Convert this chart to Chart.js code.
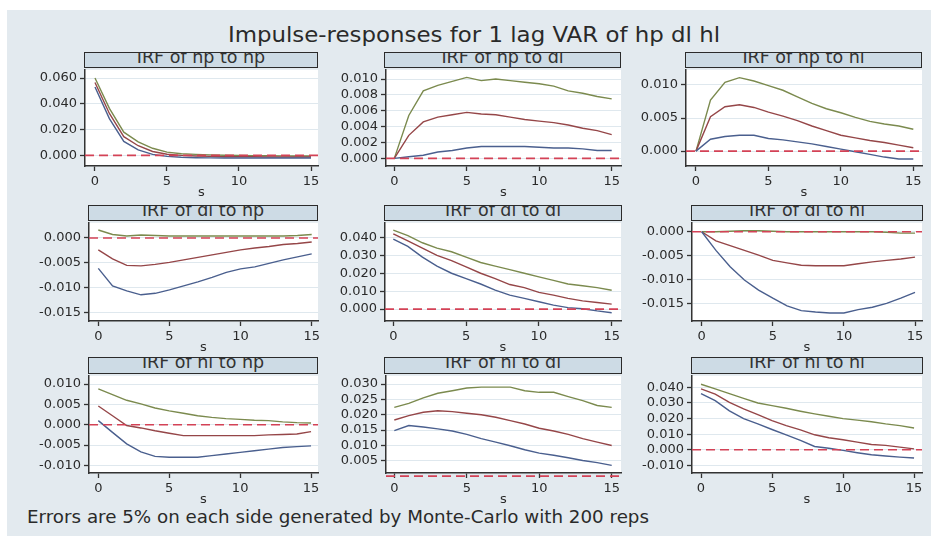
<!DOCTYPE html>
<html>
<head>
<meta charset="utf-8">
<script src="https://cdn.jsdelivr.net/npm/chart.js"></script>
<style>
  html, body { margin: 0; padding: 0; background: #fff; }
  body { width: 931px; height: 536px; position: relative; overflow: hidden; font-family: "DejaVu Sans", sans-serif; color: #2a2a2a; }
  #bg { position: absolute; left: 7px; top: 10px; right: 0; bottom: 0; background: #e3eaef; }
  #title { position: absolute; left: 0; width: 948px; top: 22px; text-align: center; font-size: 22px; line-height: 26px; white-space: nowrap; transform: scaleX(1.04); transform-origin: 474px 0; }
  #note { position: absolute; left: 27px; top: 507px; font-size: 17px; line-height: 20px; white-space: nowrap; transform: scaleX(1.075); transform-origin: 0 0; }
  .strip { position: absolute; box-sizing: border-box; border: 1.5px solid #2b2b2b; background: #cddbe5; overflow: hidden; }
  .strip span { position: absolute; left: 0; right: 0; top: -6px; text-align: center; font-size: 17.5px; line-height: 20px; white-space: nowrap; color: #333; }
  canvas { position: absolute; }
</style>
</head>
<body>
<div id="bg"></div>
<div id="title">Impulse-responses for 1 lag VAR of hp dl hl</div>
<div id="note">Errors are 5% on each side generated by Monte-Carlo with 200 reps</div>
<script>
// horizon
const steps = [0, 1, 2, 3, 4, 5, 6, 7, 8, 9, 10, 11, 12, 13, 14, 15];
const xTicks = [0, 5, 10, 15];

// lower bound / irf / upper bound
const hp_hp_lo  = [0.0530, 0.0285, 0.0108, 0.0042, 0.0008, -0.0008, -0.0015, -0.0018, -0.0019, -0.0020, -0.0020, -0.0020, -0.0020, -0.0020, -0.0020, -0.0020];
const hp_hp_irf = [0.0565, 0.0325, 0.0145, 0.0075, 0.0030, 0.0009, 0.0000, -0.0005, -0.0008, -0.0010, -0.0011, -0.0011, -0.0012, -0.0012, -0.0012, -0.0012];
const hp_hp_hi  = [0.0600, 0.0365, 0.0180, 0.0105, 0.0055, 0.0025, 0.0013, 0.0008, 0.0004, 0.0001, -0.0001, -0.0002, -0.0003, -0.0004, -0.0005, -0.0005];

const hp_dl_lo  = [0, 0.0002, 0.0004, 0.0008, 0.0010, 0.0013, 0.0015, 0.0015, 0.0015, 0.0015, 0.0014, 0.0013, 0.0013, 0.0012, 0.0010, 0.0010];
const hp_dl_irf = [0, 0.0029, 0.0046, 0.0052, 0.0055, 0.0058, 0.0056, 0.0055, 0.0052, 0.0049, 0.0047, 0.0045, 0.0042, 0.0038, 0.0035, 0.0030];
const hp_dl_hi  = [0, 0.0054, 0.0085, 0.0092, 0.0097, 0.0102, 0.0098, 0.0100, 0.0098, 0.0096, 0.0094, 0.0091, 0.0085, 0.0082, 0.0078, 0.0075];

const hp_hl_lo  = [0, 0.0018, 0.0022, 0.0024, 0.0024, 0.0019, 0.0017, 0.0014, 0.0011, 0.0007, 0.0003, -0.0001, -0.0005, -0.0009, -0.0012, -0.0012];
const hp_hl_irf = [0, 0.0052, 0.0067, 0.0070, 0.0066, 0.0059, 0.0053, 0.0046, 0.0038, 0.0031, 0.0024, 0.0020, 0.0016, 0.0013, 0.0009, 0.0005];
const hp_hl_hi  = [0, 0.0077, 0.0104, 0.0111, 0.0106, 0.0099, 0.0092, 0.0082, 0.0072, 0.0064, 0.0058, 0.0051, 0.0045, 0.0041, 0.0038, 0.0033];

const dl_hp_lo  = [-0.0061, -0.0096, -0.0106, -0.0114, -0.0111, -0.0104, -0.0096, -0.0088, -0.0079, -0.0069, -0.0062, -0.0058, -0.0051, -0.0044, -0.0038, -0.0032];
const dl_hp_irf = [-0.0024, -0.0042, -0.0055, -0.0056, -0.0053, -0.0049, -0.0044, -0.0039, -0.0034, -0.0029, -0.0024, -0.0020, -0.0017, -0.0013, -0.0011, -0.0008];
const dl_hp_hi  = [0.0016, 0.0007, 0.0004, 0.0006, 0.0005, 0.0004, 0.0004, 0.0004, 0.0004, 0.0004, 0.0004, 0.0004, 0.0004, 0.0004, 0.0005, 0.0007];

const dl_dl_lo  = [0.039, 0.035, 0.029, 0.024, 0.020, 0.017, 0.014, 0.0106, 0.0078, 0.006, 0.0041, 0.0022, 0.0008, 0.0002, -0.001, -0.002];
const dl_dl_irf = [0.042, 0.038, 0.034, 0.030, 0.027, 0.0235, 0.020, 0.017, 0.0137, 0.012, 0.0093, 0.0078, 0.006, 0.0046, 0.0037, 0.0028];
const dl_dl_hi  = [0.044, 0.041, 0.037, 0.034, 0.032, 0.029, 0.026, 0.024, 0.022, 0.020, 0.018, 0.016, 0.014, 0.013, 0.012, 0.0105];

const dl_hl_lo  = [0, -0.0039, -0.0073, -0.0101, -0.0122, -0.0139, -0.0155, -0.0165, -0.0168, -0.0170, -0.0170, -0.0163, -0.0158, -0.0150, -0.0139, -0.0127];
const dl_hl_irf = [0, -0.0019, -0.0029, -0.0039, -0.0049, -0.0060, -0.0065, -0.0070, -0.0071, -0.0071, -0.0071, -0.0067, -0.0063, -0.0060, -0.0057, -0.0053];
const dl_hl_hi  = [0, 0, 0.0001, 0.0002, 0.0002, 0.0001, 0, 0, 0, 0, 0, 0, 0, -0.0001, -0.0003, -0.0003];

const hl_hp_lo  = [0.0010, -0.0019, -0.0047, -0.0067, -0.0078, -0.0080, -0.0080, -0.0080, -0.0076, -0.0072, -0.0068, -0.0064, -0.0060, -0.0056, -0.0054, -0.0052];
const hl_hp_irf = [0.0046, 0.0022, -0.0002, -0.0008, -0.0015, -0.0021, -0.0027, -0.0027, -0.0027, -0.0027, -0.0027, -0.0027, -0.0025, -0.0024, -0.0023, -0.0017];
const hl_hp_hi  = [0.0088, 0.0074, 0.0060, 0.0051, 0.0041, 0.0034, 0.0028, 0.0022, 0.0018, 0.0015, 0.0013, 0.0011, 0.0010, 0.0007, 0.0005, 0.0004];

const hl_dl_lo  = [0.0148, 0.0165, 0.0160, 0.0154, 0.0147, 0.0136, 0.0122, 0.0111, 0.0099, 0.0086, 0.0075, 0.0068, 0.0060, 0.0051, 0.0044, 0.0035];
const hl_dl_irf = [0.0183, 0.0197, 0.0208, 0.0213, 0.0210, 0.0205, 0.0200, 0.0192, 0.0181, 0.0170, 0.0156, 0.0147, 0.0136, 0.0122, 0.0111, 0.0100];
const hl_dl_hi  = [0.0224, 0.0237, 0.0255, 0.0270, 0.0278, 0.0287, 0.0290, 0.0290, 0.0290, 0.0278, 0.0273, 0.0273, 0.0259, 0.0246, 0.0230, 0.0224];

const hl_hl_lo  = [0.036, 0.0315, 0.025, 0.020, 0.0166, 0.013, 0.0096, 0.006, 0.0021, 0.001, -0.0004, -0.0019, -0.0032, -0.004, -0.0047, -0.0053];
const hl_hl_irf = [0.039, 0.0357, 0.0304, 0.0262, 0.0225, 0.0187, 0.0155, 0.0128, 0.0096, 0.0077, 0.0064, 0.0049, 0.0034, 0.0028, 0.0017, 0.0006];
const hl_hl_hi  = [0.042, 0.039, 0.036, 0.033, 0.030, 0.0283, 0.0266, 0.0247, 0.023, 0.0215, 0.020, 0.019, 0.018, 0.0166, 0.0155, 0.014];

// y tick labels per panel
const ticks_hp_hp = [0, 0.02, 0.04, 0.06];
const ticks_hp_dl = [0, 0.002, 0.004, 0.006, 0.008, 0.010];
const ticks_hp_hl = [0, 0.005, 0.010];
const ticks_dl_hp = [-0.015, -0.010, -0.005, 0];
const ticks_dl_dl = [0, 0.01, 0.02, 0.03, 0.04];
const ticks_dl_hl = [-0.015, -0.010, -0.005, 0];
const ticks_hl_hp = [-0.010, -0.005, 0, 0.005, 0.010];
const ticks_hl_dl = [0.005, 0.010, 0.015, 0.020, 0.025, 0.030];
const ticks_hl_hl = [-0.01, 0, 0.01, 0.02, 0.03, 0.04];

// panel layout: plot box [left, top, right, bottom] in page px, strip box, axis ranges
const panels = [
  { title: 'IRF of hp to hp', lo: hp_hp_lo, irf: hp_hp_irf, hi: hp_hp_hi, yt: ticks_hp_hp, y: [-0.00823, 0.06638], x: [-0.694, 15.486], box: [85, 69, 318, 166], strip: [84, 52, 318, 68] },
  { title: 'IRF of hp to dl', lo: hp_dl_lo, irf: hp_dl_irf, hi: hp_dl_hi, yt: ticks_hp_dl, y: [-0.00096, 0.01116], x: [-0.573, 15.642], box: [386, 69, 621, 166], strip: [384, 52, 621, 68] },
  { title: 'IRF of hp to hl', lo: hp_hl_lo, irf: hp_hl_irf, hi: hp_hl_hi, yt: ticks_hp_hl, y: [-0.00225, 0.01229], x: [-0.690, 15.600], box: [686, 69, 922, 166], strip: [685, 52, 922, 68] },
  { title: 'IRF of dl to hp', lo: dl_hp_lo, irf: dl_hp_irf, hi: dl_hp_hi, yt: ticks_dl_hp, y: [-0.01665, 0.00304], x: [-0.654, 15.443], box: [89, 222, 318, 321], strip: [88, 205, 318, 221] },
  { title: 'IRF of dl to dl', lo: dl_dl_lo, irf: dl_dl_irf, hi: dl_dl_hi, yt: ticks_dl_dl, y: [-0.00664, 0.04813], x: [-0.570, 15.640], box: [385, 222, 621, 321], strip: [384, 205, 622, 221] },
  { title: 'IRF of dl to hl', lo: dl_hl_lo, irf: dl_hl_irf, hi: dl_hl_hi, yt: ticks_dl_hl, y: [-0.01867, 0.00187], x: [-0.682, 15.490], box: [692, 222, 922, 321], strip: [691, 205, 923, 221] },
  { title: 'IRF of hl to hp', lo: hl_hp_lo, irf: hl_hp_irf, hi: hl_hp_hi, yt: ticks_hl_hp, y: [-0.01188, 0.01202], x: [-0.656, 15.490], box: [89, 375, 318, 473], strip: [88, 357, 318, 374] },
  { title: 'IRF of hl to dl', lo: hl_dl_lo, irf: hl_dl_irf, hi: hl_dl_hi, yt: ticks_hl_dl, y: [0.00103, 0.03268], x: [-0.573, 15.642], box: [386, 375, 621, 473], strip: [384, 357, 622, 374] },
  { title: 'IRF of hl to hl', lo: hl_hl_lo, irf: hl_hl_irf, hi: hl_hl_hi, yt: ticks_hl_hl, y: [-0.01490, 0.04744], x: [-0.634, 15.560], box: [692, 375, 922, 473], strip: [691, 357, 923, 374] }
];

const FONT = 'DejaVu Sans';
const INK = '#2a2a2a';
const Y_W = 62, X_H = 36, PAD_T = 10, PAD_R = 10;

const plotBg = {
  id: 'plotBg',
  beforeDraw(chart) {
    const { ctx, chartArea: a } = chart;
    ctx.save();
    ctx.fillStyle = '#ffffff';
    ctx.fillRect(a.left, a.top, a.right - a.left, a.bottom - a.top);
    ctx.restore();
  }
};

function series(vals, color) {
  return {
    data: vals.map((v, i) => ({ x: steps[i], y: v })),
    borderColor: color,
    borderWidth: 1.4,
    pointRadius: 0,
    fill: false
  };
}

panels.forEach(p => {
  const [sl, st, sr, sb] = p.strip;
  const strip = document.createElement('div');
  strip.className = 'strip';
  strip.style.left = sl + 'px';
  strip.style.top = st + 'px';
  strip.style.width = (sr - sl) + 'px';
  strip.style.height = (sb - st) + 'px';
  strip.innerHTML = '<span>' + p.title + '</span>';
  document.body.appendChild(strip);

  const [l, t, r, b] = p.box;
  const w = r - l + Y_W + PAD_R;
  const h = b - t + PAD_T + X_H;
  const cv = document.createElement('canvas');
  cv.width = w;
  cv.height = h;
  cv.style.left = (l - Y_W) + 'px';
  cv.style.top = (t - PAD_T) + 'px';
  cv.style.width = w + 'px';
  cv.style.height = h + 'px';
  document.body.appendChild(cv);

  new Chart(cv, {
    type: 'line',
    data: {
      datasets: [
        {
          data: [{ x: p.x[0], y: 0 }, { x: p.x[1], y: 0 }],
          borderColor: '#d34256',
          borderWidth: 1.6,
          borderDash: [9, 5],
          pointRadius: 0,
          clip: false
        },
        series(p.lo, '#4a5f8e'),
        series(p.irf, '#954648'),
        series(p.hi, '#7b8a4e')
      ]
    },
    options: {
      responsive: false,
      animation: false,
      events: [],
      layout: { padding: { top: PAD_T, right: PAD_R, left: 0, bottom: 0 } },
      plugins: { legend: { display: false }, tooltip: { enabled: false } },
      elements: { line: { tension: 0 } },
      scales: {
        x: {
          type: 'linear',
          min: p.x[0],
          max: p.x[1],
          afterBuildTicks: s => { s.ticks = xTicks.map(v => ({ value: v })); },
          afterFit: s => { s.height = X_H; },
          grid: { drawOnChartArea: false, tickLength: 5, tickColor: '#333', tickWidth: 1.3 },
          border: { color: '#333', width: 1.5 },
          ticks: { color: INK, font: { family: FONT, size: 13 }, padding: 3, maxRotation: 0, autoSkip: false },
          title: { display: true, text: 's', color: INK, font: { family: FONT, size: 13 }, padding: { top: 0, bottom: 2 } }
        },
        y: {
          type: 'linear',
          min: p.y[0],
          max: p.y[1],
          afterBuildTicks: s => { s.ticks = p.yt.map(v => ({ value: v })); },
          afterFit: s => { s.width = Y_W; },
          grid: { color: '#dfe8ee', lineWidth: 1, tickLength: 5, tickColor: '#333', tickWidth: 1.3 },
          border: { color: '#333', width: 1.5 },
          ticks: {
            color: INK,
            font: { family: FONT, size: 13 },
            padding: 3,
            autoSkip: false,
            callback: v => v.toFixed(3)
          }
        }
      }
    },
    plugins: [plotBg]
  });
});
</script>
</body>
</html>
